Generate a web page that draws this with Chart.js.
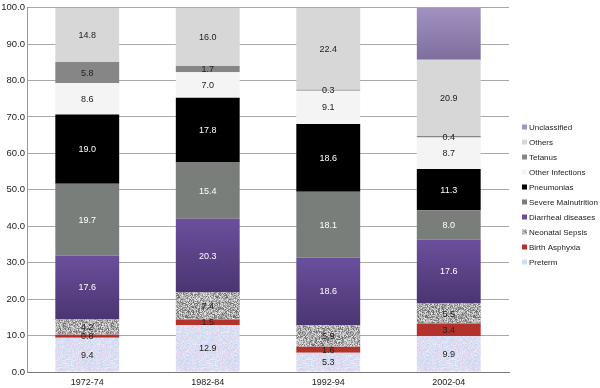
<!DOCTYPE html>
<html><head><meta charset="utf-8">
<script src="https://cdn.jsdelivr.net/npm/chart.js@4/dist/chart.umd.min.js"></script>
<style>html,body{margin:0;padding:0;background:#fff}#wrap{width:600px;height:388px}</style>
</head><body><div id="wrap"><canvas id="c" width="600" height="388"></canvas></div>
<script>
const categories = ['1972-74','1982-84','1992-94','2002-04'];
const preterm = [9.4, 12.9, 5.3, 9.9];
const birthAsphyxia = [0.8, 1.5, 1.6, 3.4];
const neonatalSepsis = [4.2, 7.4, 5.9, 5.5];
const diarrheal = [17.6, 20.3, 18.6, 17.6];
const severeMalnutrition = [19.7, 15.4, 18.1, 8.0];
const pneumonias = [19.0, 17.8, 18.6, 11.3];
const otherInfections = [8.6, 7.0, 9.1, 8.7];
const tetanus = [5.8, 1.7, 0.3, 0.4];
const others = [14.8, 16.0, 22.4, 20.9];
const unclassified = [0, 0, 0, 14.3];
const yTicks = [0,10,20,30,40,50,60,70,80,90,100];

function hash(i){ const x = Math.sin(i*12.9898+78.233)*43758.5453; return x - Math.floor(x); }
function speckle(palette, size, seed){
  const cv = document.createElement('canvas'); cv.width = size; cv.height = size;
  const g = cv.getContext('2d');
  for(let y=0;y<size;y++) for(let x=0;x<size;x++){
    const r = hash(seed + y*size + x);
    g.fillStyle = palette[Math.floor(r*palette.length)];
    g.fillRect(x,y,1,1);
  }
  return document.getElementById('c').getContext('2d').createPattern(cv,'repeat');
}
const pretermPat = speckle(['#d4def4','#dce4f6','#e4dcf2','#ead8ee','#d0dcf2','#e8eef8','#c8d6f0','#dfd6ef'], 48, 11);
const sepsisPat = speckle(['#6a6a6a','#8a8a8a','#9c9c9c','#acacac','#bababa','#c8c8c8','#d8d8d8','#e6e6e6','#7c7c7c','#b0b0b0'], 48, 977);

const series = [
  {label:'Preterm', data:preterm, color:pretermPat, legend:'#d2dcf4', text:'#222', show:true},
  {label:'Birth Asphyxia', data:birthAsphyxia, color:'#b3322c', text:'#222', show:true},
  {label:'Neonatal Sepsis', data:neonatalSepsis, color:sepsisPat, text:'#222', show:true},
  {label:'Diarrheal diseases', data:diarrheal, color:'#5b4288', grad:['#6b4f9c','#4a3572'], text:'#fff', show:true},
  {label:'Severe Malnutrition', data:severeMalnutrition, color:'#7a7e7a', text:'#fff', show:true},
  {label:'Pneumonias', data:pneumonias, color:'#000000', text:'#fff', show:true},
  {label:'Other Infections', data:otherInfections, color:'#f3f4f3', text:'#222', show:true},
  {label:'Tetanus', data:tetanus, color:'#858685', text:'#222', show:true},
  {label:'Others', data:others, color:'#d6d7d6', text:'#222', show:true},
  {label:'Unclassified', data:unclassified, color:'#9282b2', grad:['#a292c2','#7e6e9e'], text:'#222', show:false}
];

function bg(s, di){
  if(!s.grad) return s.color;
  return function(c){
    const chart = c.chart, y = chart.scales && chart.scales.y;
    if(!y || !chart.chartArea) return s.color;
    let start = 0;
    for(let k=0;k<di;k++) start += series[k].data[c.dataIndex] || 0;
    const top = y.getPixelForValue(start + (s.data[c.dataIndex]||0));
    const bot = y.getPixelForValue(start);
    if(!isFinite(top)||!isFinite(bot)||top===bot) return s.color;
    const gr = chart.ctx.createLinearGradient(0, top, 0, bot);
    gr.addColorStop(0, s.grad[0]); gr.addColorStop(1, s.grad[1]);
    return gr;
  };
}

const FONT = '"Liberation Sans", Arial, Helvetica, sans-serif';

const labelsPlugin = {
  id:'vals',
  afterDatasetsDraw(chart){
    const ctx = chart.ctx; ctx.save();
    ctx.font = '9px ' + FONT; ctx.textAlign = 'center'; ctx.textBaseline = 'middle';
    series.forEach((s,i)=>{
      if(!s.show) return;
      chart.getDatasetMeta(i).data.forEach((el,j)=>{
        const v = s.data[j]; if(!v) return;
        ctx.fillStyle = s.text;
        ctx.fillText(v.toFixed(1), el.x, (el.y+el.base)/2 + 0.5);
      });
    });
    ctx.restore();
  }
};
const legendPlugin = {
  id:'customLegend',
  afterDraw(chart){
    const ctx = chart.ctx; ctx.save();
    ctx.font = '8px ' + FONT; ctx.textAlign = 'left'; ctx.textBaseline = 'middle';
    const x0 = chart.chartArea.right + 13;
    let yy = 127;
    for(let i=series.length-1;i>=0;i--){
      const s = series[i];
      ctx.fillStyle = s.legend || (s.grad ? s.grad[0] : s.color);
      ctx.fillRect(x0, yy-2.5, 5, 5);
      ctx.fillStyle = '#222';
      ctx.fillText(s.label, x0+7, yy+0.5);
      yy += 15;
    }
    ctx.restore();
  }
};

new Chart(document.getElementById('c'), {
  type:'bar',
  data:{
    labels:categories,
    datasets: series.map((s,i)=>({label:s.label, data:s.data, backgroundColor:bg(s,i), borderWidth:0, barPercentage:0.53, categoryPercentage:1}))
  },
  options:{
    responsive:false, animation:false, devicePixelRatio:1,
    layout:{padding:{top:5, right:91, left:0, bottom:0}},
    plugins:{legend:{display:false}, tooltip:{enabled:false}},
    scales:{
      x:{stacked:true, grid:{display:false, drawTicks:false}, border:{color:'#777', width:1},
         ticks:{color:'#222', font:{size:9, family:FONT}, padding:5},
         afterFit(s){ s.height = 16; }},
      y:{stacked:true, min:0, max:100, afterBuildTicks(s){ s.ticks = yTicks.map(v=>({value:v})); },
         grid:{color:'#a8a8a8', lineWidth:1, drawTicks:false},
         border:{color:'#999', width:1},
         ticks:{color:'#222', font:{size:9.5, family:FONT}, padding:2, callback:v=>Number(v).toFixed(1)},
         afterFit(s){ s.width = 27; }}
    }
  },
  plugins:[labelsPlugin, legendPlugin]
});
</script></body></html>
